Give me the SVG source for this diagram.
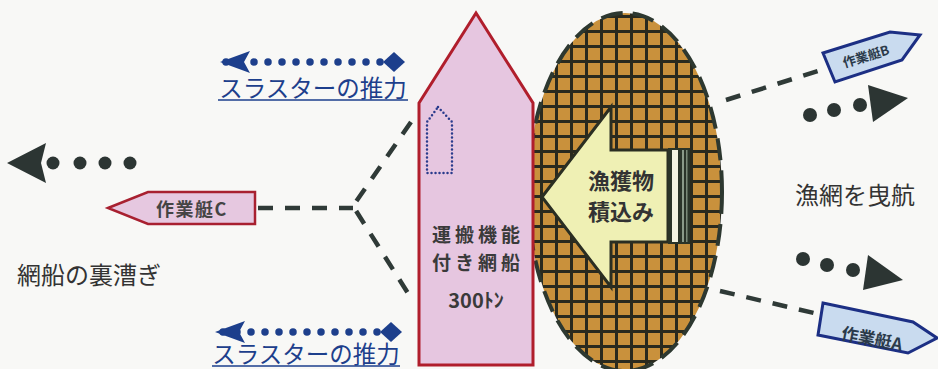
<svg xmlns="http://www.w3.org/2000/svg" width="938" height="369" viewBox="0 0 938 369">
<style>
.jp{font-family:"Noto Sans CJK JP","Noto Sans",sans-serif}
.dash{fill:none;stroke:#2f3a37;stroke-width:4.5;stroke-dasharray:15 12}
.bdots{fill:none;stroke:#1d3f8c;stroke-width:7.5;stroke-linecap:round;stroke-dasharray:0 14}
.dot{fill:#2c3533}
.thrust{font-size:23.5px;fill:#1d3f8c;text-anchor:middle}
.uline{stroke:#1d3f8c;stroke-width:1.6}
.lbl{font-size:24px;fill:#333}
.shiptxt{font-size:19px;font-weight:700;fill:#3a3a3a;text-anchor:middle}
</style>
<defs>
<pattern id="grid" patternUnits="userSpaceOnUse" x="0" y="0" width="15" height="15">
<rect width="15" height="15" fill="#c9913c"/>
<rect width="3" height="15" fill="#2a2a1e"/>
<rect width="15" height="3" fill="#2a2a1e"/>
</pattern>
<marker id="bhead" markerUnits="userSpaceOnUse" markerWidth="32" markerHeight="24" refX="28" refY="12" orient="auto" viewBox="0 0 32 24" overflow="visible">
<path d="M0,1 L30,12 L0,23 L6,12 Z" fill="#1d3f8c"/>
</marker>
<marker id="bdiam" markerUnits="userSpaceOnUse" markerWidth="24" markerHeight="22" refX="12" refY="11" orient="auto" viewBox="0 0 24 22">
<path d="M1,11 L12,1 L23,11 L12,21 Z" fill="#1d3f8c"/>
</marker>
</defs>
<rect width="938" height="369" fill="#f8f8f6"/>

<g id="net">
<ellipse cx="625" cy="192" rx="97" ry="179" fill="url(#grid)"/>
<ellipse cx="625" cy="192" rx="97" ry="179" fill="none" stroke="#2d3830" stroke-width="4" stroke-dasharray="22 10"/>
</g>

<g id="catch-arrow">
<path d="M542,197 L611,107 L611,150 L668,150 L668,242 L611,242 L611,287 Z" fill="#eff0b4" stroke="#2a2e22" stroke-width="3" stroke-linejoin="miter"/>
<rect x="668" y="148" width="22" height="96" fill="#2a3428"/>
<rect x="672" y="150" width="6" height="92" fill="#f4f4e2"/>
<rect x="682" y="150" width="2" height="92" fill="#8a9a88"/>
<rect x="686" y="150" width="1.5" height="92" fill="#7a8a78"/>
<text class="jp" font-size="22" font-weight="700" fill="#333" text-anchor="middle"><tspan x="621" y="189">漁獲物</tspan><tspan x="621" y="220">積込み</tspan></text>
</g>

<g id="main-ship">
<polygon points="419,103 476,13 533,103 533,365 419,365" fill="#e6c6e0" stroke="#b01e2c" stroke-width="3"/>
<polygon points="438,107 452,122 452,173 427,173 427,122" fill="none" stroke="#2a3b8c" stroke-width="2.5" stroke-linecap="round" stroke-dasharray="0 4"/>
<text class="jp shiptxt" letter-spacing="4"><tspan x="478" y="242">運搬機能</tspan><tspan x="478" y="270">付き網船</tspan></text>
<text class="jp" x="476" y="308" font-size="20" font-weight="700" fill="#3a3a3a" text-anchor="middle">300ﾄﾝ</text>
</g>

<g id="boat-c">
<polygon points="108,208 148,192 255,192 255,224 148,224" fill="#e6c8e0" stroke="#a82030" stroke-width="2.5"/>
<text class="jp" x="192" y="216" font-size="18" font-weight="700" fill="#444" text-anchor="middle" letter-spacing="1.5">作業艇C</text>
</g>

<g id="boat-b">
<polygon points="823,53 890,32 920,35 902,60 835,82" fill="#c9dbef" stroke="#1c2f84" stroke-width="3"/>
<text class="jp" x="866" y="61" font-size="13" font-weight="700" fill="#2b3a4a" text-anchor="middle" transform="rotate(-17 866 56)">作業艇B</text>
</g>

<g id="boat-a">
<polygon points="823,303 913,322 937,338 908,353 818,335" fill="#c9dbef" stroke="#1c2f84" stroke-width="3"/>
<text class="jp" x="872" y="345" font-size="17" font-weight="700" fill="#2b3a4a" text-anchor="middle" transform="rotate(11 872 339)">作業艇A</text>
</g>

<g id="labels">
<text class="jp lbl" x="17" y="284">網船の裏漕ぎ</text>
<text class="jp lbl" x="795" y="204" font-size="23">漁網を曳航</text>
<text class="jp thrust" x="313" y="97">スラスターの推力</text>
<line class="uline" x1="218" y1="100" x2="408" y2="100"/>
<text class="jp thrust" x="306" y="363">スラスターの推力</text>
<line class="uline" x1="212" y1="366" x2="400" y2="366"/>
</g>

<g id="connectors">
<path class="dash" d="M258,208 L353,208"/>
<path class="dash" d="M411,122 L353,206 L411,298"/>
<path class="dash" d="M726,100 L818,71"/>
<path class="dash" d="M720,291 L814,313"/>
<path class="bdots" d="M394,62 L222,62" marker-start="url(#bdiam)" marker-end="url(#bhead)"/>
<path class="bdots" d="M391,332 L217,332" marker-start="url(#bdiam)" marker-end="url(#bhead)"/>
<g id="push-arrow">
<path class="dot" d="M7,163 L46,143 L41,163 L46,183 Z"/>
<circle class="dot" cx="53" cy="163" r="6.5"/>
<circle class="dot" cx="80" cy="163" r="6.5"/>
<circle class="dot" cx="105" cy="163" r="6.5"/>
<circle class="dot" cx="130" cy="163" r="6.5"/>
</g>
<g id="tow-arrow-1">
<circle class="dot" cx="810" cy="115" r="7"/>
<circle class="dot" cx="834" cy="110" r="7"/>
<circle class="dot" cx="860" cy="105" r="7"/>
<path class="dot" d="M868,85 L908,98 L873,122 Z"/>
</g>
<g id="tow-arrow-2">
<circle class="dot" cx="803" cy="259" r="7"/>
<circle class="dot" cx="827" cy="265" r="7"/>
<circle class="dot" cx="853" cy="270" r="7"/>
<path class="dot" d="M868,255 L903,280 L863,290 Z"/>
</g>
</g>
</svg>
